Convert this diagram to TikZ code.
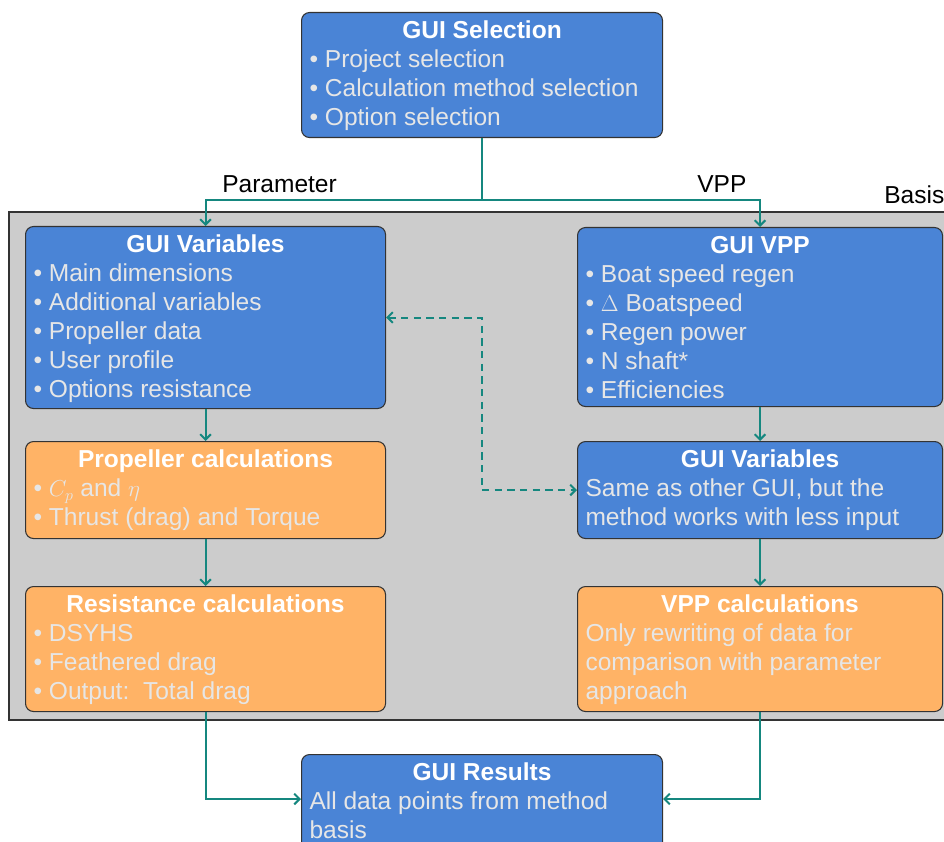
\documentclass[tikz,border=0pt]{standalone}
\usepackage{fontspec}
\setmainfont{Liberation Sans}
\usetikzlibrary{arrows.meta,calc}

\definecolor{guiblue}{HTML}{4A84D6}
\definecolor{calcorange}{HTML}{FFB366}
\definecolor{basisgray}{HTML}{CCCCCC}
\definecolor{boxline}{HTML}{333333}
\definecolor{linkteal}{HTML}{15877F}
\definecolor{bodytext}{HTML}{E6E6E6}

% box text: width, height, bold centred title, body lines
\newcommand{\boxcontent}[4]{%
  \parbox[c][#2][t]{#1}{\vspace*{4.3pt}%
    {\centering\bfseries\color{white}\strut#3\par}%
    \raggedright #4\par}}
\newcommand{\bul}{\textbullet\ }

\tikzset{
  box/.style={draw=boxline, line width=0.8pt, rounded corners=6pt,
    inner xsep=6pt, inner ysep=0pt, anchor=north west, text=bodytext,
    font=\fontsize{18.4pt}{21.75pt}\selectfont},
  bluebox/.style={box, fill=guiblue},
  orangebox/.style={box, fill=calcorange},
  conn/.style={draw=linkteal, line width=1.5pt,
    -{Straight Barb[length=4pt,width=8pt]}},
  dashconn/.style={conn, dash pattern=on 5.5pt off 4pt,
    {Straight Barb[length=4pt,width=8pt]}-{Straight Barb[length=4pt,width=8pt]}},
  label/.style={anchor=base west, inner sep=0pt, text=black,
    font=\fontsize{18.4pt}{21.75pt}\selectfont},
}

\begin{document}
\begin{tikzpicture}[x=0.75pt, y=-0.75pt]
\useasboundingbox (0,0) rectangle (944,841);
\clip (0,0) rectangle (944,841);

% grey basis region
\fill[basisgray] (9,212) rectangle (980,720);
\draw[boxline, line width=0.8pt] (980,212) -- (9,212) -- (9,720) -- (980,720);
\node[label] (basis) at (884,204) {Basis};

% top selection box
\node[bluebox] (sel) at (301,12) {\boxcontent{258.75pt}{93.75pt}{GUI Selection}{%
  \bul Project selection\\ \bul Calculation method selection\\ \bul Option selection}};

% parameter branch
\node[bluebox] (gvar) at (25,226) {\boxcontent{258pt}{136.5pt}{GUI Variables}{%
  \bul Main dimensions\\ \bul Additional variables\\ \bul Propeller data\\
  \bul User profile\\ \bul Options resistance}};
\node[orangebox] (prop) at (25,441) {\boxcontent{258pt}{72.75pt}{Propeller calculations}{%
  \bul $C_p$ and $\eta$\\ \bul Thrust (drag) and Torque}};
\node[orangebox] (res) at (25,586) {\boxcontent{258pt}{93.75pt}{Resistance calculations}{%
  \bul DSYHS\\ \bul Feathered drag\\ \bul Output:\ \ Total drag}};

% VPP branch
\node[bluebox] (gvpp) at (577,227) {\boxcontent{261.75pt}{134.25pt}{GUI VPP}{%
  \bul Boat speed regen\\ \bul $\Delta$ Boatspeed\\ \bul Regen power\\
  \bul N shaft*\\ \bul Efficiencies}};
\node[bluebox] (gvar2) at (577,441) {\boxcontent{261.75pt}{72.75pt}{GUI Variables}{%
  Same as other GUI, but the\\ method works with less input}};
\node[orangebox] (vppc) at (577,586) {\boxcontent{261.75pt}{93.75pt}{VPP calculations}{%
  Only rewriting of data for\\ comparison with parameter\\ approach}};

% results
\node[bluebox] (results) at (301,754) {\boxcontent{258.75pt}{75pt}{GUI Results}{%
  All data points from method\\ basis}};

% branch labels
\node[label] (lparam) at (222,193) {Parameter};
\node[label] (lvpp) at (697,193) {VPP};

% connectors
\coordinate (split) at ($(sel.south)+(0,62)$);
\draw[conn, -] (sel.south) -- (split);
\draw[conn] (split) -| (gvar.north);
\draw[conn] (split) -| (gvpp.north);
\draw[conn] (gvar.south) -- (prop.north);
\draw[conn] (prop.south) -- (res.north);
\draw[conn] (gvpp.south) -- (gvar2.north);
\draw[conn] (gvar2.south) -- (vppc.north);
\draw[conn] (res.south) |- ($(results.north west)+(0,45)$);
\draw[conn] (vppc.south) |- ($(results.north east)+(0,45)$);

\coordinate (dmid) at ($(gvar.east)!0.5!(gvar2.west)$);
\draw[dashconn] (gvar.east) -| (dmid) |- (gvar2.west);
\end{tikzpicture}
\end{document}
